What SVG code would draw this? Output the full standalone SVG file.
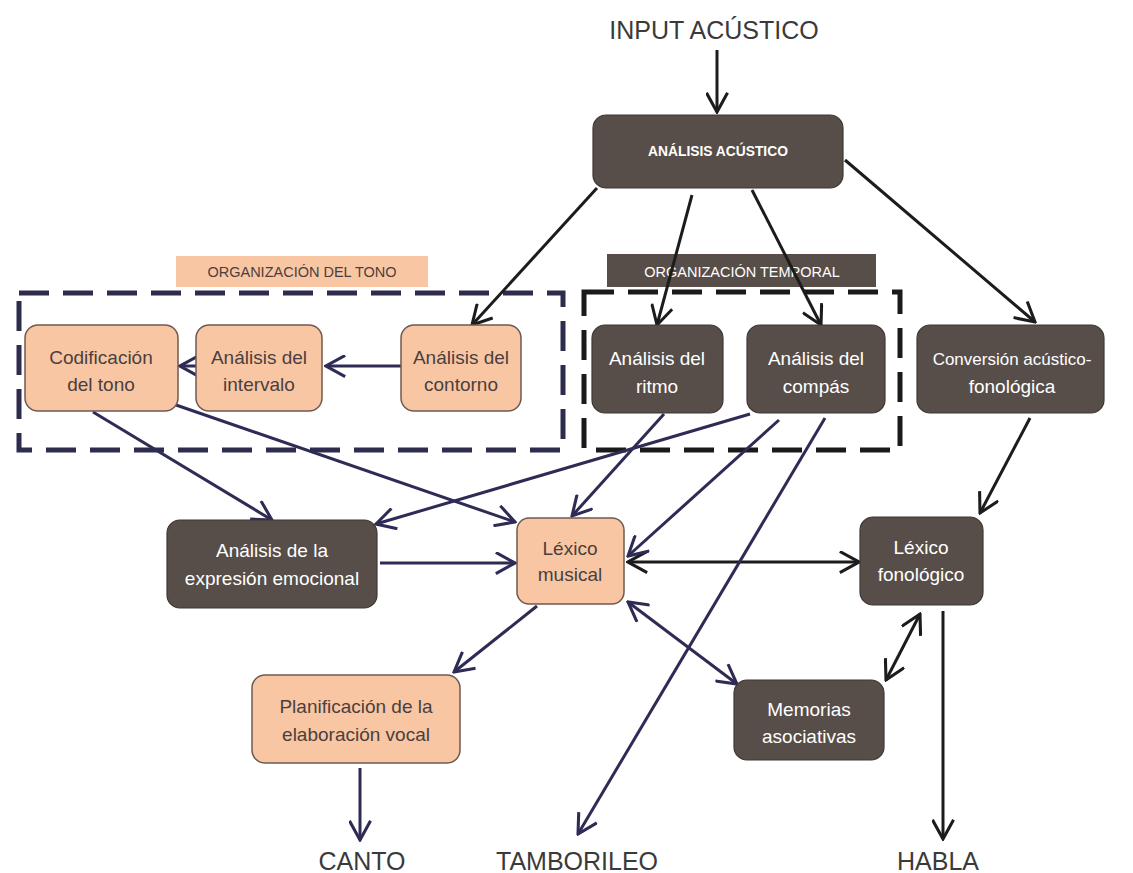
<svg xmlns="http://www.w3.org/2000/svg" width="1133" height="873" viewBox="0 0 1133 873">
  <style>
    text { font-family: "Liberation Sans", "DejaVu Sans", sans-serif; text-anchor: middle; }
    .dark { fill: #574e4a; stroke: #3f3733; stroke-width: 1.2; }
    .peach { fill: #f9c6a3; stroke: #6e5a50; stroke-width: 1.5; }
    .tw { fill: #ffffff; font-size: 19px; }
    .tb { fill: #4a3f3f; font-size: 19px; }
    .cap { font-size: 14.5px; }
    .out { fill: #3a3a3a; font-size: 25px; }
    .blk { stroke: #1c1c1c; stroke-width: 3; fill: none; }
    .nav { stroke: #2e2b55; stroke-width: 3; fill: none; }
    .dashN { fill: none; stroke: #2e2c4c; stroke-width: 5; stroke-dasharray: 30 14; }
    .dashK { fill: none; stroke: #1a1a1a; stroke-width: 5; stroke-dasharray: 30 14; }
  </style>
  <defs>
    <marker id="ak" viewBox="0 0 12 12" refX="11" refY="6" markerWidth="23" markerHeight="23" markerUnits="userSpaceOnUse" orient="auto-start-reverse">
      <path d="M1,0.5 L11,6 L1,11.5" fill="none" stroke="#1c1c1c" stroke-width="1.6"/>
    </marker>
    <marker id="an" viewBox="0 0 12 12" refX="11" refY="6" markerWidth="23" markerHeight="23" markerUnits="userSpaceOnUse" orient="auto-start-reverse">
      <path d="M1,0.5 L11,6 L1,11.5" fill="none" stroke="#2e2b55" stroke-width="1.6"/>
    </marker>
  </defs>

  <rect width="1133" height="873" fill="#ffffff"/>

  <!-- group frames -->
  <g id="grupo-tono">
    <rect x="176" y="256" width="252" height="31" fill="#f9c6a3"/>
    <text class="cap" x="302" y="277" fill="#4a3f3f">ORGANIZACIÓN DEL TONO</text>
    <rect class="dashN" x="19" y="293" width="544" height="157"/>
  </g>
  <g id="grupo-temporal">
    <rect x="607" y="254" width="269" height="33" fill="#574e4a"/>
    <text class="cap" x="742" y="277" fill="#ffffff">ORGANIZACIÓN TEMPORAL</text>
    <rect class="dashK" x="584" y="292" width="316" height="158"/>
  </g>

  <!-- connectors -->
  <g id="conectores">
    <line class="blk" x1="717" y1="50" x2="717" y2="112" marker-end="url(#ak)"/>
    <line class="blk" x1="597" y1="188" x2="472" y2="325" marker-end="url(#ak)"/>
    <line class="blk" x1="692" y1="195" x2="657" y2="325" marker-end="url(#ak)"/>
    <line class="blk" x1="752" y1="190" x2="821" y2="325" marker-end="url(#ak)"/>
    <line class="blk" x1="845" y1="160" x2="1035" y2="322" marker-end="url(#ak)"/>
    <line class="blk" x1="1030" y1="418" x2="980" y2="513" marker-end="url(#ak)"/>
    <line class="blk" x1="628" y1="562" x2="859" y2="562" marker-start="url(#ak)" marker-end="url(#ak)"/>
    <line class="blk" x1="920" y1="614" x2="886" y2="680" marker-start="url(#ak)" marker-end="url(#ak)"/>
    <line class="blk" x1="943" y1="611" x2="943" y2="839" marker-end="url(#ak)"/>

    <line class="nav" x1="401" y1="366" x2="326" y2="366" marker-end="url(#an)"/>
    <line class="nav" x1="196" y1="366" x2="180" y2="366" marker-end="url(#an)"/>
    <line class="nav" x1="93" y1="412" x2="272" y2="520" marker-end="url(#an)"/>
    <line class="nav" x1="176" y1="405" x2="515" y2="522" marker-end="url(#an)"/>
    <line class="nav" x1="664" y1="414" x2="572" y2="516" marker-end="url(#an)"/>
    <line class="nav" x1="750" y1="414" x2="376" y2="524" marker-end="url(#an)"/>
    <line class="nav" x1="779" y1="420" x2="628" y2="556" marker-end="url(#an)"/>
    <line class="nav" x1="825" y1="418" x2="578" y2="834" marker-end="url(#an)"/>
    <line class="nav" x1="380" y1="563" x2="515" y2="563" marker-end="url(#an)"/>
    <line class="nav" x1="537" y1="606" x2="454" y2="672" marker-end="url(#an)"/>
    <line class="nav" x1="628" y1="602" x2="737" y2="684" marker-start="url(#an)" marker-end="url(#an)"/>
    <line class="nav" x1="360" y1="768" x2="360" y2="840" marker-end="url(#an)"/>
  </g>

  <!-- nodes -->
  <g id="input">
    <text class="out" x="714" y="39">INPUT ACÚSTICO</text>
  </g>
  <g id="analisis-acustico">
    <rect class="dark" x="593" y="115" width="250" height="73" rx="13"/>
    <text x="718" y="156" fill="#ffffff" font-size="13.8" font-weight="bold">ANÁLISIS ACÚSTICO</text>
  </g>
  <g id="codificacion-tono">
    <rect class="peach" x="25" y="325" width="153" height="86" rx="13"/>
    <text class="tb" x="101" y="364">Codificación</text>
    <text class="tb" x="101" y="391">del tono</text>
  </g>
  <g id="analisis-intervalo">
    <rect class="peach" x="196" y="325" width="126" height="86" rx="13"/>
    <text class="tb" x="259" y="364">Análisis del</text>
    <text class="tb" x="259" y="391">intervalo</text>
  </g>
  <g id="analisis-contorno">
    <rect class="peach" x="401" y="325" width="120" height="86" rx="13"/>
    <text class="tb" x="461" y="364">Análisis del</text>
    <text class="tb" x="461" y="391">contorno</text>
  </g>
  <g id="analisis-ritmo">
    <rect class="dark" x="592" y="325" width="131" height="88" rx="13"/>
    <text class="tw" x="657" y="365">Análisis del</text>
    <text class="tw" x="657" y="393">ritmo</text>
  </g>
  <g id="analisis-compas">
    <rect class="dark" x="747" y="325" width="138" height="88" rx="13"/>
    <text class="tw" x="816" y="365">Análisis del</text>
    <text class="tw" x="816" y="393">compás</text>
  </g>
  <g id="conversion">
    <rect class="dark" x="917" y="325" width="187" height="88" rx="13"/>
    <text class="tw" x="1012" y="365" style="font-size:17px">Conversión acústico-</text>
    <text class="tw" x="1012" y="393">fonológica</text>
  </g>
  <g id="expresion-emocional">
    <rect class="dark" x="167" y="520" width="210" height="88" rx="13"/>
    <text class="tw" x="272" y="557">Análisis de la</text>
    <text class="tw" x="272" y="585">expresión emocional</text>
  </g>
  <g id="lexico-musical">
    <rect class="peach" x="517" y="518" width="107" height="86" rx="12"/>
    <text class="tb" x="570" y="555">Léxico</text>
    <text class="tb" x="570" y="581">musical</text>
  </g>
  <g id="lexico-fonologico">
    <rect class="dark" x="860" y="517" width="123" height="88" rx="13"/>
    <text class="tw" x="921" y="554">Léxico</text>
    <text class="tw" x="921" y="581">fonológico</text>
  </g>
  <g id="planificacion">
    <rect class="peach" x="252" y="675" width="208" height="88" rx="13"/>
    <text class="tb" x="356" y="713">Planificación de la</text>
    <text class="tb" x="356" y="741">elaboración vocal</text>
  </g>
  <g id="memorias">
    <rect class="dark" x="734" y="680" width="150" height="80" rx="13"/>
    <text class="tw" x="809" y="716">Memorias</text>
    <text class="tw" x="809" y="743">asociativas</text>
  </g>

  <!-- outputs -->
  <g id="salidas">
    <text class="out" x="362" y="870">CANTO</text>
    <text class="out" x="577" y="870">TAMBORILEO</text>
    <text class="out" x="938" y="870">HABLA</text>
  </g>
</svg>
